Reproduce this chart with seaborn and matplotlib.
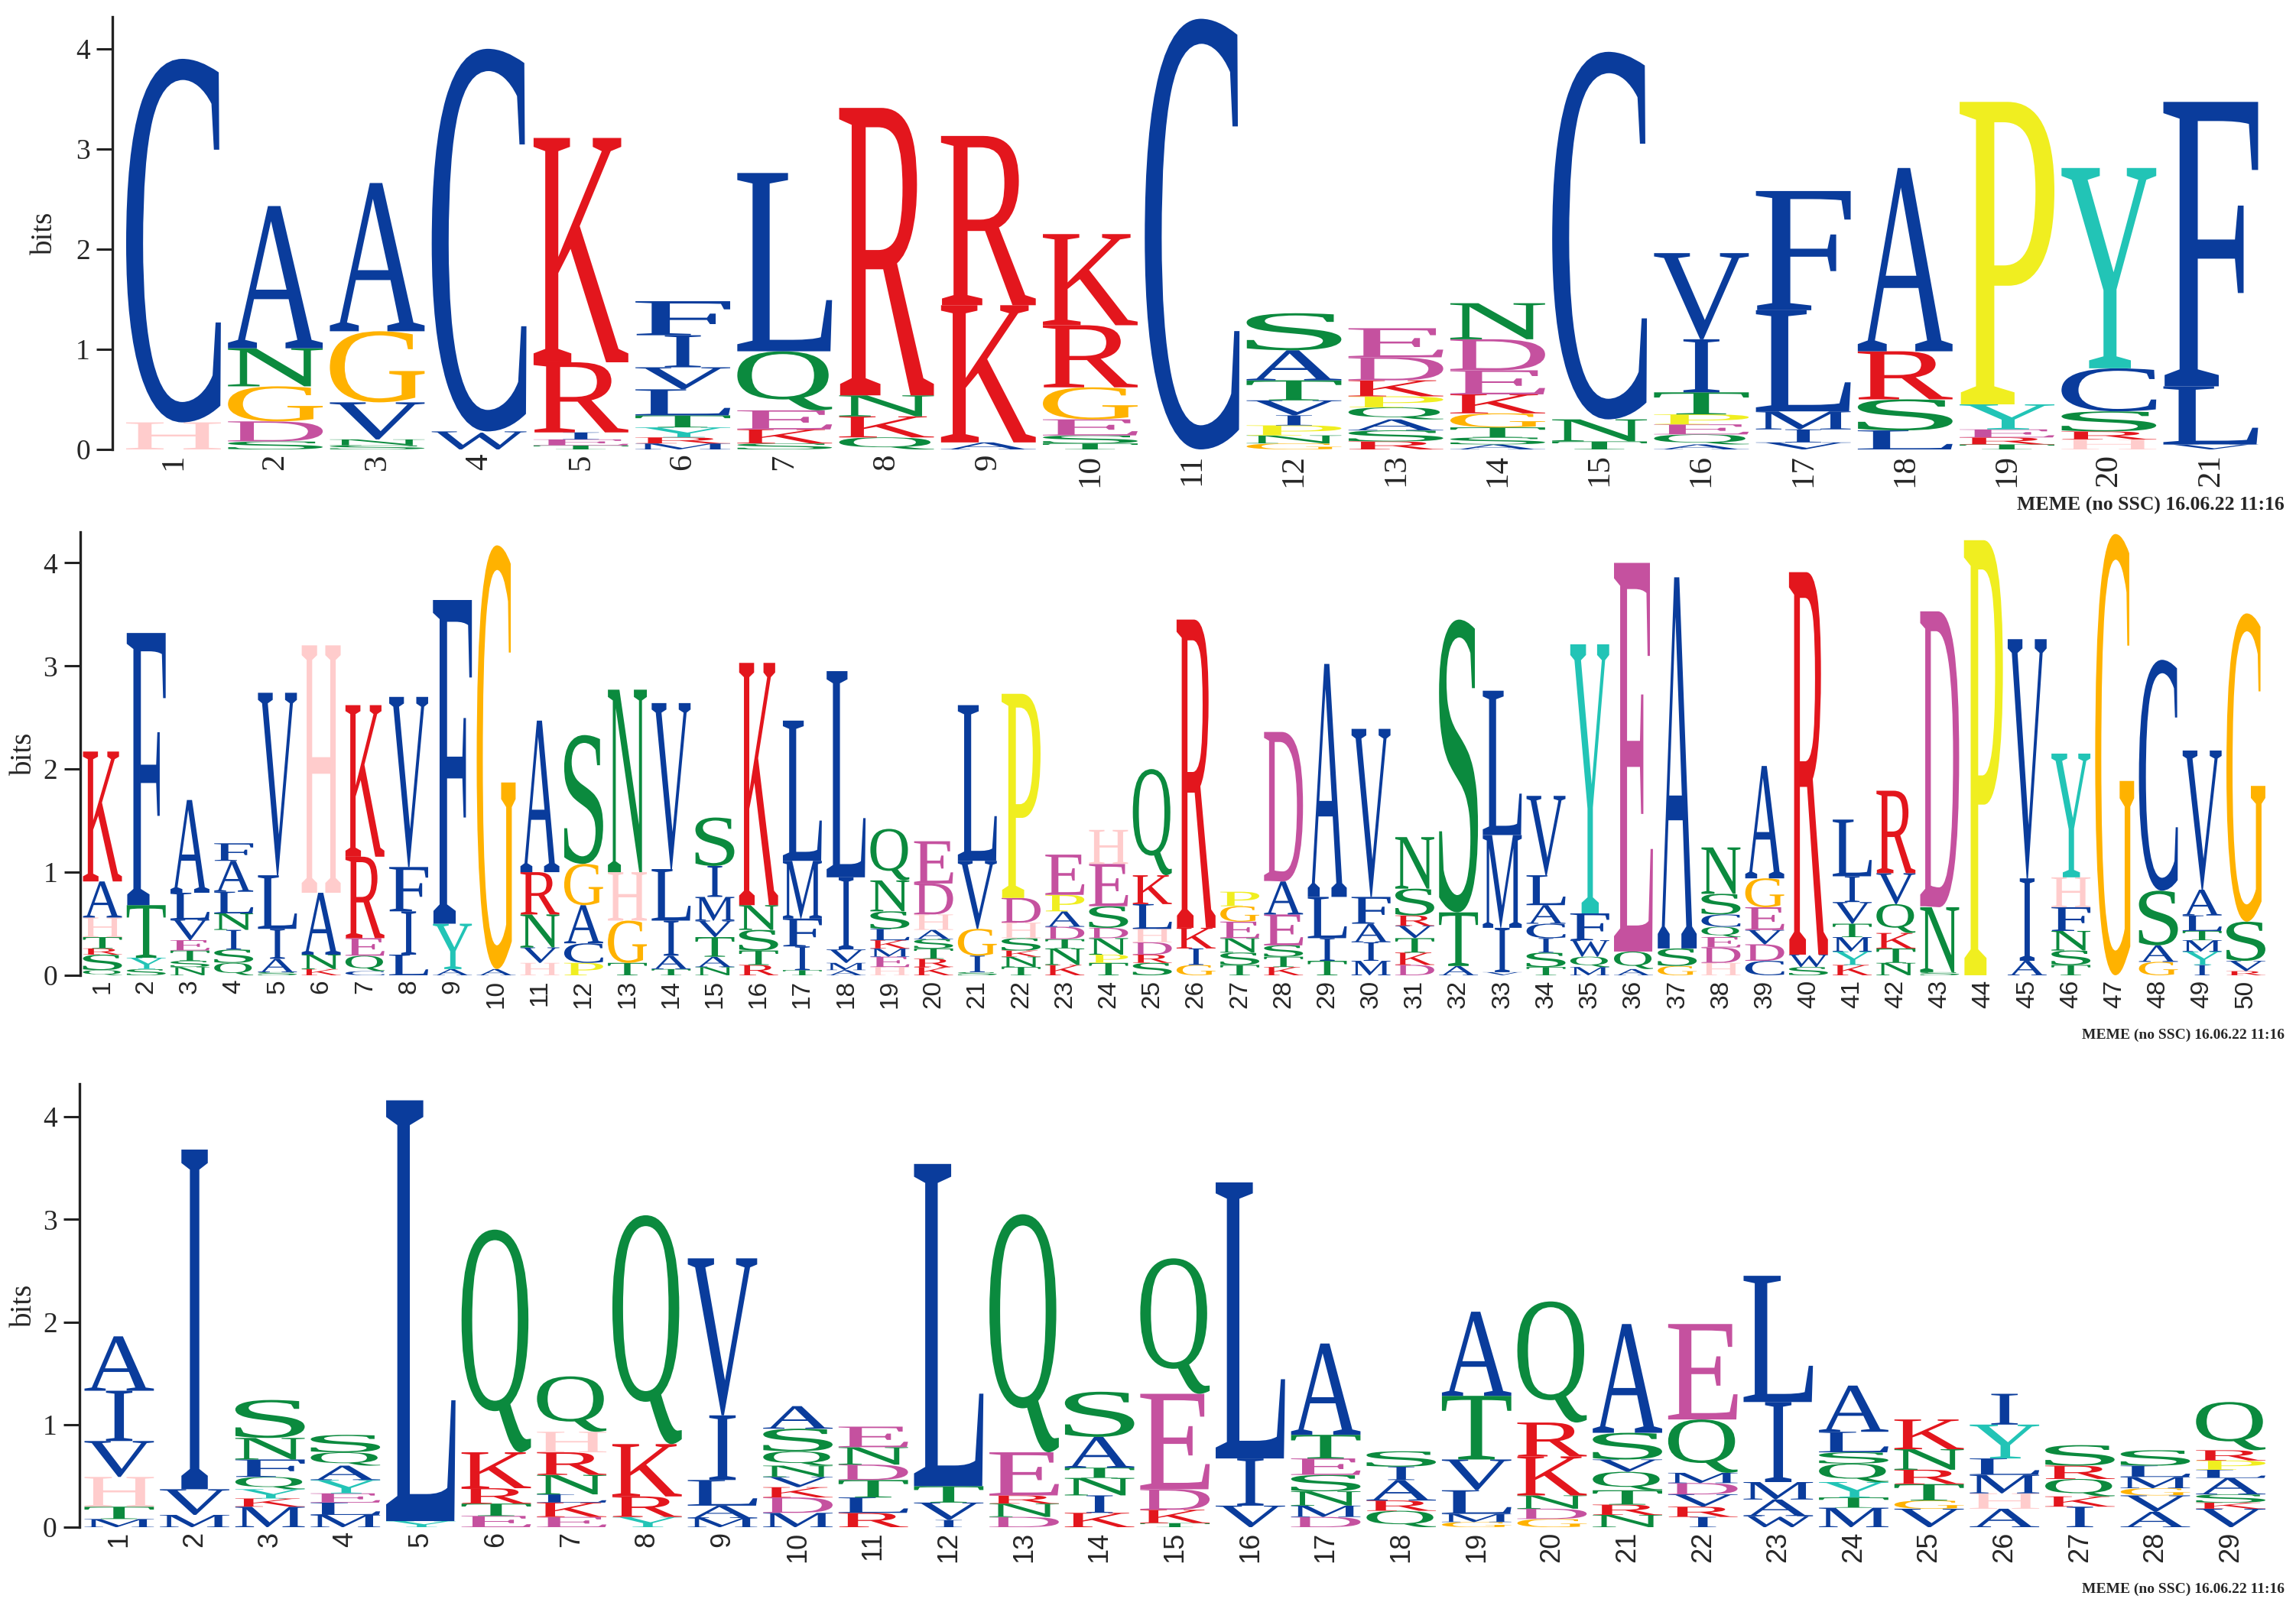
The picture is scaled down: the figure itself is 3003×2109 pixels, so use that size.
import matplotlib
matplotlib.use("Agg")
import matplotlib.pyplot as plt
import seaborn as sns
from matplotlib.textpath import TextPath
from matplotlib.patches import PathPatch
from matplotlib.font_manager import FontProperties
from matplotlib.transforms import Affine2D

# stacks are listed bottom -> top, heights in bits
top_letters = ["HC", "SDGNA", "SNVGA", "WC", "TEIRK", "MRYTLVIF", "SKEQL", "QKNR", "AKR", "TSEGRK",
               "C", "GNPIVTAS", "RSAQPKDE", "ASTGKEDN", "TNC", "AQEPTIV", "VIMLF", "LSRA", "TREYP", "HRSCY", "VLF"]
top_bits = [
    [0.27, 3.63],
    [0.08, 0.20, 0.35, 0.38, 1.42],
    [0.04, 0.06, 0.37, 0.71, 1.48],
    [0.18, 3.82],
    [0.04, 0.06, 0.07, 0.70, 2.24],
    [0.06, 0.06, 0.10, 0.12, 0.26, 0.22, 0.32, 0.34],
    [0.06, 0.14, 0.19, 0.59, 1.78],
    [0.12, 0.21, 0.21, 2.87],
    [0.07, 1.37, 1.69],
    [0.06, 0.08, 0.16, 0.32, 0.62, 0.91],
    [4.30],
    [0.06, 0.08, 0.10, 0.10, 0.15, 0.20, 0.30, 0.37],
    [0.08, 0.11, 0.11, 0.12, 0.11, 0.16, 0.23, 0.29],
    [0.05, 0.07, 0.10, 0.14, 0.19, 0.24, 0.31, 0.36],
    [0.08, 0.22, 3.67],
    [0.05, 0.10, 0.10, 0.10, 0.22, 0.53, 0.86],
    [0.07, 0.13, 0.18, 1.01, 1.19],
    [0.19, 0.31, 0.48, 1.83],
    [0.05, 0.07, 0.08, 0.25, 3.02],
    [0.10, 0.08, 0.20, 0.43, 2.00],
    [0.05, 0.58, 2.84],
]

mid_letters = ["QSRTHAK", "SYTF", "NSTEVLA", "QSINLAF", "SAILV", "KNAH", "CQERK", "LIFV", "AYF", "AG",
               "HVNRA", "PCAGS", "TGHN", "TAILV", "NATVMIS", "RTSNK", "TIFML", "AMVIL", "HEMKLSNQ", "KRTSAHDE",
               "SIGVL", "TNKSHDP", "KNTDAPE", "TPNDSEH", "SRDHLKQ", "GIKR", "TSNEGP", "KTSEAD", "TILA", "MIAFV",
               "DKTVRSN", "ATS", "VIML", "TSICALV", "MQWFY", "AQE", "GSA", "HDEQCSN", "CDVEGA", "SWR",
               "KYMTVIL", "NTKQVR", "SND", "P", "AIV", "TSNFHY", "G", "GASC", "IYMTLAV", "RVSG"]
mid_bits = [
    [0.05, 0.15, 0.06, 0.11, 0.19, 0.35, 1.26],
    [0.06, 0.11, 0.51, 2.64],
    [0.08, 0.06, 0.10, 0.10, 0.20, 0.26, 0.90],
    [0.12, 0.13, 0.19, 0.16, 0.21, 0.30, 0.17],
    [0.03, 0.13, 0.29, 0.52, 1.77],
    [0.06, 0.14, 0.60, 2.40],
    [0.04, 0.15, 0.17, 0.79, 1.47],
    [0.20, 0.42, 0.43, 1.65],
    [0.06, 0.44, 3.14],
    [0.06, 4.11],
    [0.12, 0.15, 0.32, 0.41, 1.47],
    [0.12, 0.19, 0.37, 0.40, 1.25],
    [0.12, 0.41, 0.47, 1.77],
    [0.06, 0.13, 0.34, 0.50, 1.61],
    [0.08, 0.10, 0.19, 0.16, 0.23, 0.30, 0.47],
    [0.10, 0.14, 0.20, 0.24, 2.35],
    [0.05, 0.23, 0.27, 0.56, 1.36],
    [0.05, 0.07, 0.13, 0.70, 2.00],
    [0.08, 0.10, 0.08, 0.08, 0.11, 0.17, 0.30, 0.50],
    [0.08, 0.08, 0.10, 0.09, 0.09, 0.15, 0.30, 0.41],
    [0.03, 0.16, 0.26, 0.66, 1.51],
    [0.08, 0.10, 0.06, 0.12, 0.15, 0.24, 1.98],
    [0.10, 0.16, 0.09, 0.12, 0.15, 0.16, 0.39],
    [0.12, 0.08, 0.16, 0.10, 0.21, 0.41, 0.33],
    [0.12, 0.08, 0.12, 0.13, 0.24, 0.28, 1.03],
    [0.10, 0.16, 0.20, 2.99],
    [0.10, 0.12, 0.14, 0.16, 0.15, 0.14],
    [0.08, 0.10, 0.11, 0.30, 0.32, 1.45],
    [0.14, 0.22, 0.40, 2.26],
    [0.14, 0.18, 0.18, 0.26, 1.63],
    [0.10, 0.12, 0.14, 0.12, 0.10, 0.26, 0.50],
    [0.09, 0.52, 2.84],
    [0.03, 0.43, 0.90, 1.40],
    [0.08, 0.14, 0.14, 0.14, 0.18, 0.29, 0.77],
    [0.08, 0.10, 0.16, 0.26, 2.61],
    [0.06, 0.17, 3.77],
    [0.09, 0.17, 3.60],
    [0.12, 0.15, 0.10, 0.10, 0.12, 0.20, 0.45],
    [0.14, 0.16, 0.14, 0.22, 0.28, 1.09],
    [0.08, 0.12, 3.71],
    [0.10, 0.13, 0.14, 0.13, 0.21, 0.25, 0.55],
    [0.12, 0.14, 0.15, 0.28, 0.30, 0.80],
    [0.03, 0.63, 2.87],
    [4.22],
    [0.14, 0.80, 2.32],
    [0.10, 0.14, 0.19, 0.23, 0.29, 1.20],
    [4.28],
    [0.13, 0.16, 0.53, 2.24],
    [0.10, 0.13, 0.11, 0.09, 0.15, 0.25, 1.35],
    [0.04, 0.10, 0.38, 2.99],
]

bot_letters = ["MTHVIA", "MVI", "MKYQFNS", "MLEYAQS", "YL", "ETRKQ", "EKLNRHQ", "YRKQ", "MALIV", "MDKVNQSA",
               "RLTDNE", "IVTL", "DNREQ", "KINTAS", "TKDEQ", "VIL", "DMNSETA", "QRAIS", "GMLVTA", "GDNKRQ",
               "NRTQVSA", "IRVDMQE", "WAMIL", "MTYQSLA", "VGTRNK", "AHMLYI", "IKQRS", "AVGMLS", "VKSALPRQ"]
bot_bits = [
    [0.08, 0.12, 0.29, 0.35, 0.49, 0.53],
    [0.12, 0.25, 3.31],
    [0.20, 0.08, 0.09, 0.12, 0.17, 0.21, 0.37],
    [0.12, 0.12, 0.09, 0.13, 0.14, 0.13, 0.17],
    [0.06, 4.10],
    [0.11, 0.12, 0.15, 0.35, 2.17],
    [0.10, 0.14, 0.08, 0.19, 0.22, 0.20, 0.54],
    [0.10, 0.20, 0.51, 2.23],
    [0.09, 0.12, 0.25, 0.63, 1.53],
    [0.14, 0.15, 0.10, 0.10, 0.11, 0.14, 0.22, 0.22],
    [0.14, 0.15, 0.17, 0.15, 0.17, 0.20],
    [0.07, 0.17, 0.16, 3.14],
    [0.10, 0.13, 0.08, 0.42, 2.32],
    [0.14, 0.17, 0.17, 0.10, 0.30, 0.44],
    [0.04, 0.13, 0.20, 0.93, 1.32],
    [0.21, 0.46, 2.69],
    [0.10, 0.11, 0.14, 0.16, 0.16, 0.23, 0.89],
    [0.16, 0.10, 0.20, 0.13, 0.15],
    [0.05, 0.08, 0.23, 0.30, 0.62, 0.82],
    [0.08, 0.10, 0.13, 0.38, 0.33, 1.18],
    [0.12, 0.10, 0.14, 0.18, 0.12, 0.26, 1.06],
    [0.10, 0.10, 0.12, 0.11, 0.10, 0.52, 0.93],
    [0.11, 0.16, 0.17, 0.78, 1.23],
    [0.19, 0.10, 0.15, 0.18, 0.11, 0.20, 0.45],
    [0.18, 0.08, 0.16, 0.14, 0.20, 0.29],
    [0.18, 0.15, 0.18, 0.16, 0.33, 0.30],
    [0.20, 0.10, 0.17, 0.13, 0.20],
    [0.15, 0.16, 0.07, 0.11, 0.11, 0.15],
    [0.18, 0.06, 0.08, 0.16, 0.08, 0.09, 0.10, 0.47],
]

footer = "MEME (no SSC) 16.06.22 11:16"

# MEME amino acid colour groups
COLORS = {}
for group, col in [("ACFILVWM", "#0a3c9c"), ("KR", "#e3161d"), ("NQST", "#0b8a3e"),
                   ("DE", "#c5519f"), ("G", "#ffb200"), ("H", "#ffcccc"),
                   ("P", "#f0ee20"), ("Y", "#22c4b6")]:
    for ch in group:
        COLORS[ch] = col

sns.set_theme(style="ticks")
plt.rcParams['font.family'] = ['Liberation Serif', 'DejaVu Serif']

LETTER_FONT = FontProperties(family="Liberation Serif", weight="normal")


def draw_logo(ax, letters, bits, width):
    for pos, (stack, hs) in enumerate(zip(letters, bits), start=1):
        y0 = 0.0
        for ch, h in zip(stack, hs):
            glyph = TextPath((0, 0), ch, size=1, prop=LETTER_FONT)
            bb = glyph.get_extents()
            w = width * 0.38 if ch == "I" else width
            tf = (Affine2D().translate(-bb.x0, -bb.y0)
                  .scale(w / bb.width, h / bb.height)
                  .translate(pos - w / 2, y0))
            ax.add_patch(PathPatch(tf.transform_path(glyph), fc=COLORS[ch], lw=0))
            y0 += h


fig = plt.figure(figsize=(30.03, 21.09), dpi=100)

panels = [
    # letters, bits, axes rect, xlim left, ymax, letter width, xlabel font, xlabel size, bits-label x, footer y, footer size
    (top_letters, top_bits, [0.04895, 0.7212, 0.9361, 0.2684], 0.40, 4.32, 0.93, 'Liberation Serif', 31, -0.025, 0.6866, 18.5),
    (mid_letters, mid_bits, [0.0348, 0.3950, 0.9529, 0.2750], 0.484, 4.30, 0.89, 'Liberation Sans', 24, -0.019, 0.3580, 14),
    (bot_letters, bot_bits, [0.0346, 0.0526, 0.9534, 0.2750], 0.473, 4.32, 0.92, 'Liberation Sans', 26, -0.019, 0.0142, 14),
]

for letters, bits, rect, xl, ymax, width, xfont, xsize, labx, fy, fsize in panels:
    ax = fig.add_axes(rect)
    n = len(letters)
    draw_logo(ax, letters, bits, width)
    ax.set_xlim(xl, n + 0.5)
    ax.set_ylim(0, ymax)
    ax.set_facecolor("white")
    sns.despine(ax=ax, bottom=True)
    ax.spines['left'].set_linewidth(2.4)
    ax.spines['left'].set_color("#222222")
    ax.set_yticks([0, 1, 2, 3, 4])
    ax.set_yticklabels(["0", "1", "2", "3", "4"], fontsize=27, family='Liberation Serif')
    ax.tick_params(axis='y', length=15, width=2.2, color="#222222", pad=6)
    ax.set_xticks(range(1, n + 1))
    ax.set_xticklabels([str(i) for i in range(1, n + 1)], rotation=90,
                       fontsize=xsize, family=xfont)
    ax.tick_params(axis='x', length=0, pad=4)
    ax.set_ylabel("bits", fontsize=28, family='Liberation Serif')
    ax.yaxis.set_label_coords(labx, 0.5)
    ax.grid(False)
    fig.text(0.995, fy, footer, ha='right', va='center', fontsize=fsize,
             fontweight='bold', family='Liberation Serif')

fig.savefig("out.png", dpi=100, facecolor="white")
